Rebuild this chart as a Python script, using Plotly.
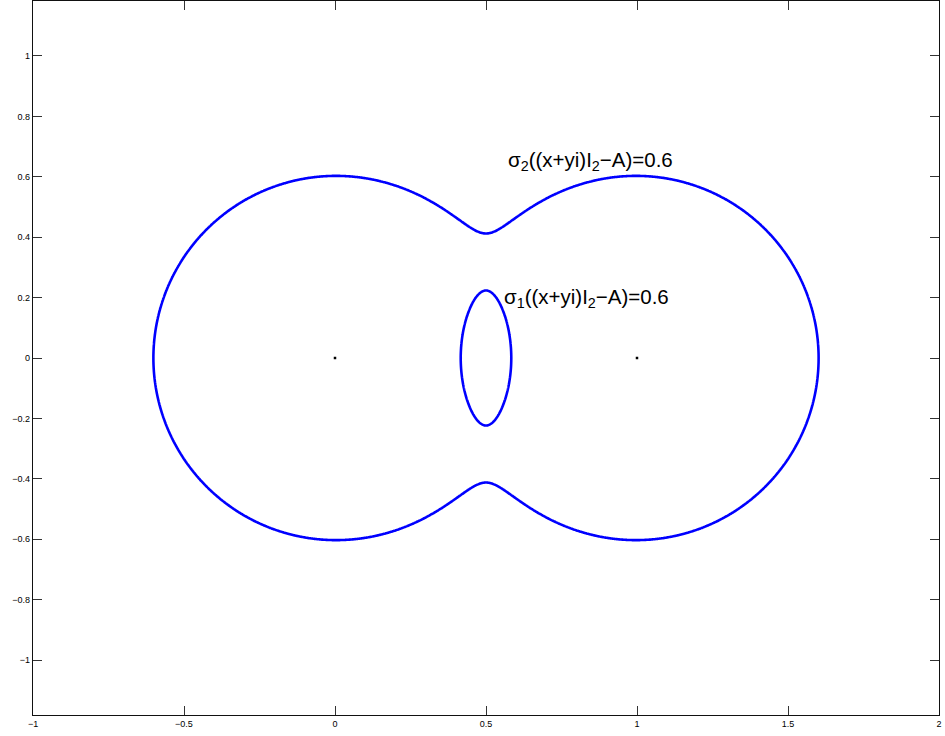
import numpy as np
import plotly.graph_objects as go

# 2x2 matrix whose pseudospectral level sets are drawn
A = [[0.0, 0.1],
     [0.0, 1.0]]
eigenvalues_re = [0.0, 1.0]
eigenvalues_im = [0.0, 0.0]
level = 0.6

x_ticks = [-1, -0.5, 0, 0.5, 1, 1.5, 2]
x_tick_text = ["\u22121", "\u22120.5", "0", "0.5", "1", "1.5", "2"]
y_ticks = [-1, -0.8, -0.6, -0.4, -0.2, 0, 0.2, 0.4, 0.6, 0.8, 1]
y_tick_text = ["\u22121", "\u22120.8", "\u22120.6", "\u22120.4", "\u22120.2", "0",
               "0.2", "0.4", "0.6", "0.8", "1"]

# singular values of (x+yi)I - A on a grid
gx = np.linspace(-0.9, 1.9, 841)
gy = np.linspace(-0.9, 0.9, 541)
X, Y = np.meshgrid(gx, gy)
Z = X + 1j * Y
Am = np.array(A, dtype=complex)
M = np.empty(Z.shape + (2, 2), dtype=complex)
M[..., 0, 0] = Z - Am[0, 0]
M[..., 0, 1] = -Am[0, 1]
M[..., 1, 0] = -Am[1, 0]
M[..., 1, 1] = Z - Am[1, 1]
sv = np.linalg.svd(M, compute_uv=False)
sig_max = sv[..., 0]
sig_min = sv[..., 1]

fig = go.Figure()
for zz in (sig_min, sig_max):
    fig.add_trace(go.Contour(
        x=gx, y=gy, z=zz,
        contours=dict(start=level, end=level, size=1, coloring="lines"),
        line=dict(width=2.6, smoothing=1.0),
        colorscale=[[0, "#0000ff"], [1, "#0000ff"]],
        showscale=False, hoverinfo="skip",
    ))

fig.add_trace(go.Scatter(
    x=eigenvalues_re, y=eigenvalues_im, mode="markers",
    marker=dict(color="black", size=2.5, symbol="square"),
    hoverinfo="skip", showlegend=False,
))

label_font = dict(family="Liberation Sans, Arial, sans-serif", size=20.5, color="black")


def level_label(k):
    return ("\u03c3<sub>%d</sub>((x+yi)I<sub>2</sub>\u2212A)=" % k) + str(level)


fig.add_annotation(x=0.566, y=0.652, xanchor="left", yanchor="middle", showarrow=False,
                   text=level_label(2), font=label_font)
fig.add_annotation(x=0.553, y=0.199, xanchor="left", yanchor="middle", showarrow=False,
                   text=level_label(1), font=label_font)

axis_common = dict(
    showgrid=False, zeroline=False, showline=True, linecolor="#111", linewidth=1.2,
    mirror="ticks", ticks="inside", ticklen=9, tickcolor="#333", tickwidth=1,
    tickfont=dict(family="Liberation Sans, Arial, sans-serif", size=9, color="black"),
)
fig.update_xaxes(range=[-1, 2], tickvals=x_ticks, ticktext=x_tick_text, **axis_common)
fig.update_yaxes(range=[-1.182, 1.182], tickvals=y_ticks, ticktext=y_tick_text, **axis_common)

fig.update_layout(
    width=945, height=736,
    margin=dict(l=33, r=6, t=1, b=21),
    paper_bgcolor="white", plot_bgcolor="white",
    showlegend=False,
)

fig.write_html("out.html")
